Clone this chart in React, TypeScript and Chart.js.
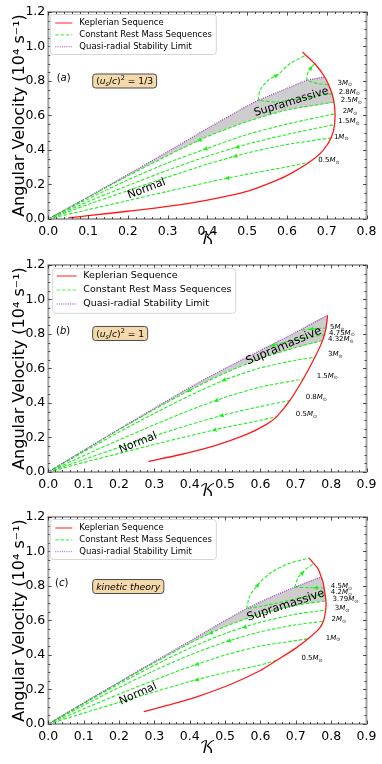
import React, { useEffect, useRef } from 'react';
import { Chart, registerables } from 'chart.js';
Chart.register(...registerables);

type P = [number, number];

// ---------------- Panel (a): (u_s/c)^2 = 1/3 ----------------
const A_KEPLER: P[] = [[0.05,0.006],[0.1,0.019],[0.2,0.045],[0.3,0.073],[0.4,0.11],[0.5,0.16],[0.578,0.228],[0.616,0.272],[0.657,0.33],[0.691,0.398],[0.712,0.475],[0.72,0.552],[0.72,0.649],[0.712,0.736],[0.695,0.823],[0.67,0.9],[0.639,0.968]];
const A_LIMIT: P[] = [[0,0],[0.1,0.127],[0.2,0.258],[0.3,0.39],[0.4,0.525],[0.5,0.655],[0.528,0.688],[0.6,0.757],[0.649,0.803],[0.695,0.823]];
const A_M05: P[] = [[0,0],[0.1,0.054],[0.2,0.107],[0.3,0.16],[0.4,0.212],[0.5,0.26],[0.6,0.302],[0.657,0.33]];
const A_M1: P[] = [[0,0],[0.1,0.084],[0.2,0.165],[0.3,0.243],[0.4,0.318],[0.5,0.383],[0.6,0.432],[0.711,0.47]];
const A_M15: P[] = [[0,0],[0.1,0.1],[0.2,0.194],[0.3,0.283],[0.4,0.364],[0.5,0.434],[0.6,0.49],[0.72,0.548]];
const A_M2: P[] = [[0,0],[0.1,0.116],[0.2,0.227],[0.3,0.325],[0.4,0.41],[0.5,0.49],[0.6,0.55],[0.72,0.61]];
const A_M25: P[] = [[0,0],[0.1,0.126],[0.2,0.25],[0.3,0.368],[0.4,0.478],[0.5,0.565],[0.6,0.632],[0.719,0.678]];
const A_M28_STABLE: P[] = [[0.714,0.727],[0.632,0.698],[0.574,0.678],[0.528,0.688]];
const A_M28_UNSTABLE: P[] = [[0.528,0.688],[0.532,0.746],[0.553,0.804],[0.578,0.838],[0.607,0.9],[0.647,0.949]];
const A_M3_STABLE: P[] = [[0.703,0.779],[0.678,0.785],[0.649,0.803]];
const A_M3_UNSTABLE: P[] = [[0.649,0.803],[0.653,0.852],[0.662,0.881],[0.67,0.9]];
const A_MASS_LABELS = ['3', '2.8', '2.5', '2', '1.5', '1', '0.5'];

// ---------------- Panel (b): (u_s/c)^2 = 1 ----------------
const B_KEPLER: P[] = [[0.283,0.062],[0.372,0.1],[0.467,0.15],[0.561,0.218],[0.617,0.276],[0.646,0.321],[0.683,0.414],[0.721,0.539],[0.754,0.665],[0.776,0.763],[0.785,0.83],[0.79,0.908]];
const B_LIMIT: P[] = [[0,0],[0.1,0.125],[0.2,0.248],[0.3,0.37],[0.4,0.49],[0.5,0.6],[0.6,0.705],[0.7,0.81],[0.79,0.908]];
const B_M05: P[] = [[0,0],[0.1,0.055],[0.2,0.108],[0.3,0.16],[0.4,0.21],[0.5,0.258],[0.6,0.3],[0.646,0.321]];
const B_M08: P[] = [[0,0],[0.1,0.072],[0.2,0.142],[0.3,0.21],[0.4,0.274],[0.5,0.333],[0.6,0.38],[0.683,0.414]];
const B_M15: P[] = [[0,0],[0.1,0.094],[0.2,0.186],[0.3,0.274],[0.4,0.358],[0.5,0.433],[0.6,0.493],[0.721,0.539]];
const B_M3: P[] = [[0,0],[0.1,0.117],[0.2,0.232],[0.3,0.34],[0.4,0.443],[0.5,0.535],[0.6,0.604],[0.7,0.648],[0.754,0.665]];
const B_M432: P[] = [[0,0],[0.1,0.124],[0.2,0.246],[0.3,0.363],[0.4,0.474],[0.5,0.574],[0.6,0.658],[0.7,0.722],[0.776,0.763]];
const B_M475: P[] = [[0.782,0.797],[0.72,0.775],[0.66,0.748],[0.615,0.72]];
const B_M5: P[] = [[0.787,0.835],[0.75,0.83],[0.71,0.82]];
const B_MASS_LABELS = ['5', '4.75', '4.32', '3', '1.5', '0.8', '0.5'];

// ---------------- Panel (c): kinetic theory ----------------
const C_KEPLER: P[] = [[0.27,0.072],[0.35,0.115],[0.43,0.165],[0.518,0.232],[0.6,0.31],[0.645,0.368],[0.7,0.44],[0.735,0.494],[0.765,0.55],[0.778,0.596],[0.785,0.668],[0.785,0.72],[0.78,0.788],[0.777,0.822],[0.772,0.852],[0.763,0.9],[0.751,0.93],[0.738,0.962]];
const C_LIMIT: P[] = [[0,0],[0.1,0.122],[0.2,0.243],[0.3,0.362],[0.4,0.48],[0.5,0.6],[0.561,0.668],[0.62,0.727],[0.697,0.793],[0.772,0.852]];
const C_M05: P[] = [[0,0],[0.1,0.063],[0.2,0.125],[0.3,0.186],[0.4,0.246],[0.5,0.298],[0.6,0.342],[0.645,0.368]];
const C_M1: P[] = [[0,0],[0.1,0.088],[0.2,0.173],[0.3,0.255],[0.4,0.332],[0.5,0.4],[0.6,0.452],[0.735,0.494]];
const C_M2: P[] = [[0,0],[0.1,0.108],[0.2,0.212],[0.3,0.31],[0.4,0.4],[0.5,0.475],[0.6,0.535],[0.7,0.575],[0.778,0.596]];
const C_M3: P[] = [[0,0],[0.1,0.118],[0.2,0.232],[0.3,0.34],[0.4,0.44],[0.5,0.525],[0.6,0.59],[0.7,0.637],[0.785,0.66]];
const C_M379: P[] = [[0,0],[0.1,0.121],[0.2,0.24],[0.3,0.355],[0.4,0.468],[0.5,0.565],[0.6,0.638],[0.7,0.688],[0.785,0.714]];
const C_M42_STABLE: P[] = [[0.782,0.752],[0.7,0.725],[0.62,0.69],[0.561,0.668]];
const C_M42_UNSTABLE: P[] = [[0.561,0.668],[0.57,0.745],[0.598,0.82],[0.631,0.88],[0.678,0.929],[0.738,0.962]];
const C_M45_STABLE: P[] = [[0.781,0.789],[0.74,0.79],[0.697,0.793]];
const C_M45_UNSTABLE: P[] = [[0.697,0.793],[0.707,0.851],[0.73,0.9],[0.751,0.93]];
const C_MASS_LABELS = ['4.5', '4.2', '3.79', '3', '2', '1', '0.5'];

const X_TICKS_A = [0, 0.1, 0.2, 0.3, 0.4, 0.5, 0.6, 0.7, 0.8];
const X_TICKS_BC = [0, 0.1, 0.2, 0.3, 0.4, 0.5, 0.6, 0.7, 0.8, 0.9];
const Y_TICKS = [0, 0.2, 0.4, 0.6, 0.8, 1.0, 1.2];
const LEGEND_LABELS = ['Keplerian Sequence', 'Constant Rest Mass Sequences', 'Quasi-radial Stability Limit'];

// ---------------- styling ----------------
const FONT = "'DejaVu Sans', 'Noto Sans', sans-serif";
const RED = '#ff1a1a';
const GREEN = '#1ef01e';
const PURPLE = '#a445c8';
const GRAY = '#cdcdcd';

type Seg = { t: string; it?: boolean; sub?: boolean; sup?: boolean };
type Arrow = [number, number, number, number]; // line, seg, t, dir

interface PanelCfg {
  tag: string;
  top: number;
  height: number;
  padB: number;
  xTicks: number[];
  kepler: P[];
  limit: P[];
  green: P[][];
  lower: P[];
  arrows: Arrow[];
  massLabels: string[];
  massPos: P[];
  box: { segs: Seg[]; k: number; w: number; size: number };
  tagPos: P;
  supra: { k: number; w: number; angle: number; size: number };
  normal: { k: number; w: number; angle: number; size: number };
  legend: { dx: number; dy: number; w: number; h: number; row0: number; dyRow: number; hx0: number; hx1: number; tx: number; size: number };
}

const LEG_AC = { dx: 2, dy: 2.5, w: 166, h: 40, row0: 11, dyRow: 11.8, hx0: 7, hx1: 24, tx: 31, size: 8.5 };
const LEG_B = { dx: 4.4, dy: 3.3, w: 183, h: 45, row0: 11, dyRow: 14, hx0: 8.4, hx1: 28.4, tx: 35, size: 9.5 };

const PANELS: PanelCfg[] = [
  {
    tag: 'a', top: 0, height: 253, padB: 4, xTicks: X_TICKS_A,
    kepler: A_KEPLER, limit: A_LIMIT,
    green: [A_M05, A_M1, A_M15, A_M2, A_M25, A_M28_STABLE, A_M28_UNSTABLE, A_M3_STABLE, A_M3_UNSTABLE],
    lower: A_M25,
    arrows: [[0, 4, 0.5, -1], [1, 4, 0.7, -1], [2, 4, 0.75, -1], [3, 3, 0.95, -1], [4, 3, 0.8, -1], [6, 2, 0.8, 1], [8, 1, 0.8, 1]],
    massLabels: A_MASS_LABELS,
    massPos: [[0.727, 0.794], [0.73, 0.74], [0.735, 0.692], [0.74, 0.628], [0.729, 0.57], [0.718, 0.479], [0.679, 0.343]],
    box: { segs: [{ t: '(' }, { t: 'u', it: true }, { t: 's', it: true, sub: true }, { t: '/' }, { t: 'c', it: true }, { t: ')' }, { t: '2', sup: true }, { t: ' = 1/3' }], k: 0.1116, w: 0.8, size: 9.2 },
    tagPos: [0.021, 0.82],
    supra: { k: 0.611, w: 0.678, angle: -17, size: 11 },
    normal: { k: 0.247, w: 0.175, angle: -21, size: 11 },
    legend: LEG_AC,
  },
  {
    tag: 'b', top: 253, height: 252, padB: 4, xTicks: X_TICKS_BC,
    kepler: B_KEPLER, limit: B_LIMIT,
    green: [B_M05, B_M08, B_M15, B_M3, B_M432, B_M475, B_M5],
    lower: B_M432,
    arrows: [[0, 4, 0.7, -1], [1, 4, 0.9, -1], [2, 4, 0.75, -1], [3, 4, 0.97, -1], [4, 3, 0.97, -1], [5, 2, 0.53, 1], [6, 1, 0.15, 1]],
    massLabels: B_MASS_LABELS,
    massPos: [[0.797, 0.843], [0.794, 0.811], [0.791, 0.772], [0.791, 0.685], [0.759, 0.562], [0.728, 0.436], [0.7, 0.338]],
    box: { segs: [{ t: '(' }, { t: 'u', it: true }, { t: 's', it: true, sub: true }, { t: '/' }, { t: 'c', it: true }, { t: ')' }, { t: '2', sup: true }, { t: ' = 1' }], k: 0.1255, w: 0.803, size: 9.2 },
    tagPos: [0.022, 0.821],
    supra: { k: 0.666, w: 0.729, angle: -23, size: 11.5 },
    normal: { k: 0.254, w: 0.169, angle: -22, size: 11 },
    legend: LEG_B,
  },
  {
    tag: 'c', top: 505, height: 259, padB: 6, xTicks: X_TICKS_BC,
    kepler: C_KEPLER, limit: C_LIMIT,
    green: [C_M05, C_M1, C_M2, C_M3, C_M379, C_M42_STABLE, C_M42_UNSTABLE, C_M45_STABLE, C_M45_UNSTABLE],
    lower: C_M379,
    arrows: [[0, 4, 0.2, -1], [1, 4, 0.2, -1], [2, 5, 0.1, -1], [3, 5, 0.55, -1], [4, 4, 0.6, -1], [6, 1, 0.8, 1], [8, 1, 0.5, 1], [7, 0, 0.6, 1]],
    massLabels: C_MASS_LABELS,
    massPos: [[0.799, 0.803], [0.799, 0.768], [0.804, 0.726], [0.81, 0.675], [0.801, 0.61], [0.785, 0.503], [0.716, 0.383]],
    box: { segs: [{ t: 'kinetic theory', it: true }], k: 0.1255, w: 0.797, size: 9.3 },
    tagPos: [0.019, 0.819],
    supra: { k: 0.672, w: 0.687, angle: -18, size: 11.5 },
    normal: { k: 0.254, w: 0.174, angle: -24, size: 11 },
    legend: LEG_AC,
  },
];

const PLOT_TOP = 12;
const PLOT_BOTTOM = 219;
const PLOT_LEFT = 48.3;
const PLOT_RIGHT = 366.5;
const W = 382;
const PAD_L = 10;

function grayRegion(limit: P[], kepler: P[], lower: P[]): P[] {
  const top = limit[limit.length - 1][1];
  const bot = lower[lower.length - 1][1];
  const edge = kepler.filter((p) => p[1] < top && p[1] > bot).sort((a, b) => b[1] - a[1]);
  return [...limit, ...edge, ...[...lower].reverse()];
}

function drawRich(ctx: CanvasRenderingContext2D, segs: Seg[], x: number, y: number, size: number, align: 'left' | 'center') {
  const fontFor = (s: Seg) => `${s.it ? 'italic ' : ''}${s.sub || s.sup ? size * 0.7 : size}px ${FONT}`;
  let total = 0;
  const widths = segs.map((s) => {
    ctx.font = fontFor(s);
    const w = ctx.measureText(s.t).width;
    total += w;
    return w;
  });
  let cx = align === 'center' ? x - total / 2 : x;
  ctx.textAlign = 'left';
  ctx.textBaseline = 'alphabetic';
  const base = y + size * 0.36;
  segs.forEach((s, i) => {
    ctx.font = fontFor(s);
    const dy = s.sub ? size * 0.22 : s.sup ? -size * 0.42 : 0;
    ctx.fillText(s.t, cx, base + dy);
    cx += widths[i];
  });
  return total;
}

function makeOverlay(cfg: PanelCfg) {
  return {
    id: 'overlay_' + cfg.tag,
    afterDatasetsDraw(chart: any) {
      const ctx: CanvasRenderingContext2D = chart.ctx;
      const xs = chart.scales.x;
      const ys = chart.scales.y;
      const px = (k: number) => xs.getPixelForValue(k);
      const py = (w: number) => ys.getPixelForValue(w);
      ctx.save();
      // arrows on constant rest mass sequences
      ctx.fillStyle = GREEN;
      cfg.arrows.forEach(([li, seg, t, dir]) => {
        const line = cfg.green[li];
        const a = line[seg];
        const b = line[seg + 1];
        const ax = px(a[0]), ay = py(a[1]), bx = px(b[0]), by = py(b[1]);
        const mx = ax + (bx - ax) * t;
        const my = ay + (by - ay) * t;
        let ux = (bx - ax) * dir, uy = (by - ay) * dir;
        const len = Math.hypot(ux, uy) || 1;
        ux /= len; uy /= len;
        const nx = -uy, ny = ux;
        ctx.beginPath();
        ctx.moveTo(mx + ux * 2.8, my + uy * 2.8);
        ctx.lineTo(mx - ux * 2 + nx * 2.2, my - uy * 2 + ny * 2.2);
        ctx.lineTo(mx - ux * 2 - nx * 2.2, my - uy * 2 - ny * 2.2);
        ctx.closePath();
        ctx.fill();
      });
      // mass labels
      ctx.fillStyle = '#000';
      cfg.massLabels.forEach((m, i) => {
        const [k, w] = cfg.massPos[i];
        drawRich(ctx, [{ t: m }, { t: 'M', it: true }, { t: '\u2299', sub: true }], px(k), py(w), 7, 'left');
      });
      // region texts
      const rot = (txt: string, o: { k: number; w: number; angle: number; size: number }) => {
        ctx.save();
        ctx.translate(px(o.k), py(o.w));
        ctx.rotate((o.angle * Math.PI) / 180);
        ctx.font = `${o.size}px ${FONT}`;
        ctx.textAlign = 'center';
        ctx.textBaseline = 'middle';
        ctx.fillStyle = '#000';
        ctx.fillText(txt, 0, 0);
        ctx.restore();
      };
      rot('Supramassive', cfg.supra);
      rot('Normal', cfg.normal);
      // panel tag
      ctx.fillStyle = '#000';
      drawRich(ctx, [{ t: '(' }, { t: cfg.tag, it: true }, { t: ')' }], px(cfg.tagPos[0]), py(cfg.tagPos[1]), 10, 'left');
      // boxed text
      ctx.font = `${cfg.box.size}px ${FONT}`;
      let tw = 0;
      cfg.box.segs.forEach((s) => {
        ctx.font = `${s.it ? 'italic ' : ''}${s.sub || s.sup ? cfg.box.size * 0.7 : cfg.box.size}px ${FONT}`;
        tw += ctx.measureText(s.t).width;
      });
      const bx = px(cfg.box.k), by = py(cfg.box.w);
      const bw = tw + 7, bh = 14;
      ctx.beginPath();
      ctx.roundRect(bx, by - bh / 2, bw, bh, 3);
      ctx.fillStyle = '#f3d9ab';
      ctx.fill();
      ctx.strokeStyle = '#3a3a3a';
      ctx.lineWidth = 0.9;
      ctx.stroke();
      ctx.fillStyle = '#000';
      drawRich(ctx, cfg.box.segs, bx + 3.5, by, cfg.box.size, 'left');

      // frame and inward ticks on all four sides
      const { left, right, top, bottom } = chart.chartArea;
      ctx.strokeStyle = '#a5a5a5';
      ctx.lineWidth = 2;
      ctx.strokeRect(left, top, right - left, bottom - top);
      ctx.strokeStyle = '#222';
      ctx.lineWidth = 0.8;
      ctx.beginPath();
      const xmax = xs.max;
      for (let i = 0; i <= Math.round(xmax / 0.02); i++) {
        const v = i * 0.02;
        const major = i % 5 === 0;
        const L = major ? 3.5 : 2;
        const x = Math.round(px(v)) + 0.5;
        ctx.moveTo(x, bottom); ctx.lineTo(x, bottom - L);
        ctx.moveTo(x, top); ctx.lineTo(x, top + L);
      }
      for (let i = 0; i <= 24; i++) {
        const v = i * 0.05;
        const major = i % 4 === 0;
        const L = major ? 3.5 : 2;
        const y = Math.round(py(v)) + 0.5;
        ctx.moveTo(left, y); ctx.lineTo(left + L, y);
        ctx.moveTo(right, y); ctx.lineTo(right - L, y);
      }
      ctx.stroke();
      ctx.restore();
    },
    afterDraw(chart: any) {
      const ctx: CanvasRenderingContext2D = chart.ctx;
      const { left, top } = chart.chartArea;
      const L = cfg.legend;
      ctx.save();
      ctx.beginPath();
      ctx.roundRect(left + L.dx, top + L.dy, L.w, L.h, 3);
      ctx.fillStyle = 'rgba(255,255,255,0.9)';
      ctx.fill();
      ctx.strokeStyle = '#d6d6d6';
      ctx.lineWidth = 1;
      ctx.stroke();
      const styles = [
        { c: RED, dash: [] as number[], w: 1.3 },
        { c: GREEN, dash: [3.5, 1.8], w: 1.2 },
        { c: PURPLE, dash: [1, 1.2], w: 1.3 },
      ];
      LEGEND_LABELS.forEach((lab, i) => {
        const y = top + L.dy + L.row0 + i * L.dyRow - L.dy;
        const st = styles[i];
        ctx.beginPath();
        ctx.setLineDash(st.dash);
        ctx.strokeStyle = st.c;
        ctx.globalAlpha = 0.75;
        ctx.lineWidth = st.w;
        ctx.moveTo(left + L.hx0, y);
        ctx.lineTo(left + L.hx1, y);
        ctx.stroke();
        ctx.globalAlpha = 1;
        ctx.setLineDash([]);
        ctx.fillStyle = '#000';
        ctx.font = `${L.size}px ${FONT}`;
        ctx.textAlign = 'left';
        ctx.textBaseline = 'middle';
        ctx.fillText(lab, left + L.tx, y);
      });
      ctx.restore();
    },
  };
}

function Panel({ cfg }: { cfg: PanelCfg }) {
  const ref = useRef<HTMLCanvasElement>(null);
  useEffect(() => {
    if (!ref.current) return;
    const toXY = (pts: P[]) => pts.map(([x, y]) => ({ x, y }));
    const line = (pts: P[], color: string, dash: number[], width: number, order: number, tension = 0.25) => ({
      data: toXY(pts),
      borderColor: color,
      borderDash: dash,
      borderWidth: width,
      pointRadius: 0,
      fill: false,
      tension,
      order,
    });
    const datasets: any[] = [
      {
        data: toXY(grayRegion(cfg.limit, cfg.kepler, cfg.lower)),
        fill: 'shape',
        backgroundColor: GRAY,
        borderColor: 'rgba(0,0,0,0)',
        borderWidth: 0,
        pointRadius: 0,
        tension: 0.15,
        order: 20,
      },
      ...cfg.green.map((g) => line(g, GREEN, [3.5, 1.8], 1.1, 5, 0.2)),
      line(cfg.kepler, RED, [], 1.3, 2, 0.3),
      line(cfg.limit, PURPLE, [1, 1.2], 1.3, 1, 0.2),
    ];
    const H = cfg.height;
    const xTitleSize = 17;
    const chart = new Chart(ref.current, {
      type: 'line',
      data: { datasets },
      options: {
        responsive: false,
        maintainAspectRatio: false,
        animation: false,
        events: [],
        layout: { padding: { top: PLOT_TOP, left: PAD_L, right: W - PLOT_RIGHT, bottom: cfg.padB } },
        plugins: { legend: { display: false }, tooltip: { enabled: false }, title: { display: false } },
        scales: {
          x: {
            type: 'linear',
            min: 0,
            max: cfg.xTicks[cfg.xTicks.length - 1],
            afterFit: (s: any) => { s.height = H - cfg.padB - PLOT_BOTTOM; },
            afterBuildTicks: (s: any) => { s.ticks = cfg.xTicks.map((v) => ({ value: v })); },
            grid: { display: false, drawTicks: false },
            border: { display: false },
            ticks: { color: '#000', padding: 5, maxRotation: 0, autoSkip: false, font: { family: FONT, size: 12.5 }, callback: (v: any) => Number(v).toFixed(1) },
            title: { display: true, text: '\u{1D4A6}', color: '#000', padding: 0, font: { family: "'DejaVu Math TeX Gyre', 'DejaVu Serif', 'DejaVu Sans', serif", size: xTitleSize } },
          },
          y: {
            type: 'linear',
            min: 0,
            max: 1.2,
            afterFit: (s: any) => { s.width = PLOT_LEFT - PAD_L; },
            afterBuildTicks: (s: any) => { s.ticks = Y_TICKS.map((v) => ({ value: v })); },
            grid: { display: false, drawTicks: false },
            border: { display: false },
            ticks: { color: '#000', padding: 3, font: { family: FONT, size: 12.5 }, callback: (v: any) => Number(v).toFixed(1) },
            title: { display: true, text: 'Angular Velocity (10\u2074 s\u207B\u00B9)', color: '#000', padding: 0, font: { family: FONT, size: 16 } },
          },
        },
      } as any,
      plugins: [makeOverlay(cfg)],
    });
    return () => chart.destroy();
  }, [cfg]);
  return (
    <div style={{ position: 'absolute', left: 0, top: cfg.top, width: W, height: cfg.height }}>
      <canvas ref={ref} width={W} height={cfg.height} style={{ display: 'block', width: W, height: cfg.height }} />
    </div>
  );
}

export default function App() {
  return (
    <div style={{ position: 'absolute', left: 0, top: 0, width: W, height: 764, background: '#fff', overflow: 'hidden' }}>
      {PANELS.map((p) => (
        <Panel key={p.tag} cfg={p} />
      ))}
    </div>
  );
}
